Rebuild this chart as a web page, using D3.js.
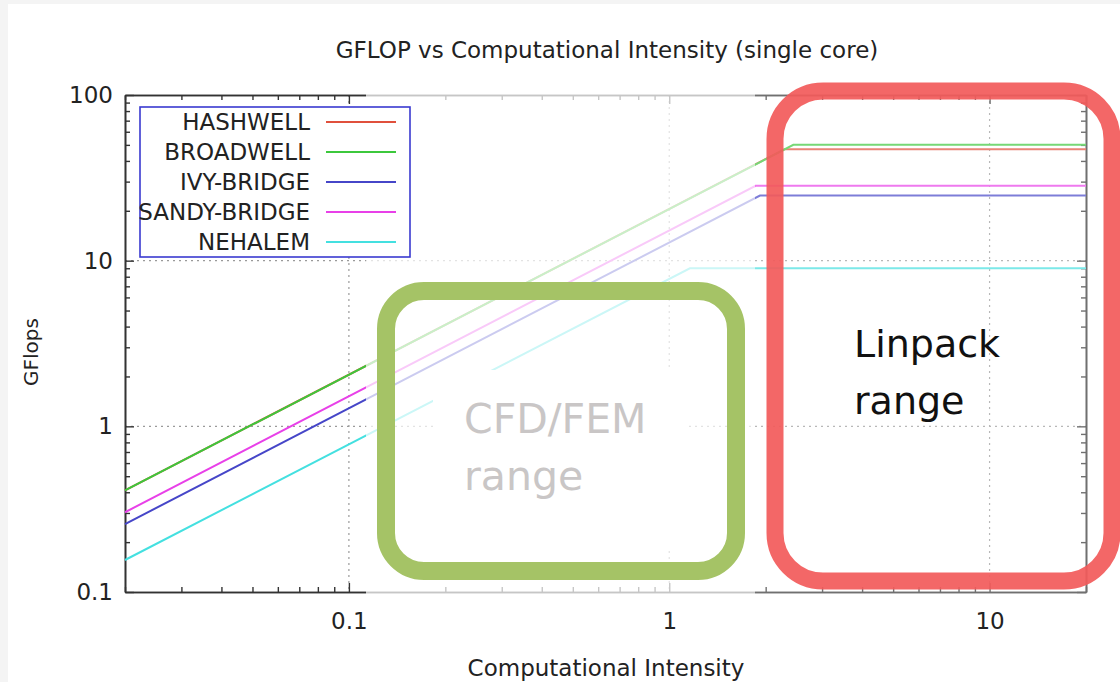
<!DOCTYPE html>
<html>
<head>
<meta charset="utf-8">
<script src="https://cdn.jsdelivr.net/npm/d3@7"></script>
<style>
  body { margin: 0; background: #f4f4f4; }
  svg { display: block; }
  text { font-family: "DejaVu Sans", sans-serif; fill: #222; }
</style>
</head>
<body>
<svg id="chart" width="1120" height="682"></svg>
<script>
// roofline data
const names = ["HASHWELL", "BROADWELL", "IVY-BRIDGE", "SANDY-BRIDGE", "NEHALEM"]
const colors = ["#e0503c", "#3cc83c", "#4646c8", "#e840e8", "#44e0e0"]
const startX = 0.02
const endX = 20
const startY = [0.41, 0.41, 0.257, 0.303, 0.156]   // GFlops at x = 0.02
const ridgeX = [2.29, 2.44, 1.92, 1.86, 1.16]      // where the roof flattens
const peak = [47, 50, 24.7, 28.3, 9.0]             // flat roof value

const xMajor = [0.1, 1, 10]
const yMajor = [0.1, 1, 10, 100]

const svg = d3.select("#chart")
svg.append("rect").attr("x", 8).attr("y", 4).attr("width", 1112).attr("height", 678).attr("fill", "#fff")

const L = 125, R = 1086, T = 95, B = 592
const x = d3.scaleLog().domain([startX, endX]).range([L, R])
const y = d3.scaleLog().domain([0.1, 100]).range([B, T])

const fmt = d => String(d)
const xMinor = x.ticks().filter(d => !xMajor.some(m => Math.abs(m - d) < 1e-9))
const yMinor = y.ticks().filter(d => !yMajor.some(m => Math.abs(m - d) < 1e-9))

// grid (dotted)
const grid = svg.append("g").attr("stroke", "#9a9a9a").attr("stroke-width", 1.2).attr("stroke-dasharray", "2,4")
grid.selectAll("line.vx").data(xMajor).enter().append("line")
  .attr("x1", d => x(d)).attr("x2", d => x(d)).attr("y1", T).attr("y2", B)
grid.selectAll("line.hy").data([1, 10]).enter().append("line")
  .attr("x1", L).attr("x2", R).attr("y1", d => y(d)).attr("y2", d => y(d))

// axes, gnuplot style: inward ticks on all four sides
function axes() {
  const g = svg.append("g").attr("class", "axes")
  const ax = (gen, tr) => g.append("g").attr("transform", tr).call(gen)
  ax(d3.axisBottom(x).tickValues(xMajor).tickFormat(fmt).tickSizeInner(-9).tickSizeOuter(0).tickPadding(21), `translate(0,${B})`)
  ax(d3.axisBottom(x).tickValues(xMinor).tickFormat("").tickSizeInner(-5).tickSizeOuter(0), `translate(0,${B})`)
  ax(d3.axisTop(x).tickValues(xMajor).tickFormat("").tickSizeInner(-9).tickSizeOuter(0), `translate(0,${T})`)
  ax(d3.axisTop(x).tickValues(xMinor).tickFormat("").tickSizeInner(-5).tickSizeOuter(0), `translate(0,${T})`)
  ax(d3.axisLeft(y).tickValues(yMajor).tickFormat(fmt).tickSizeInner(-9).tickSizeOuter(0).tickPadding(12), `translate(${L},0)`)
  ax(d3.axisLeft(y).tickValues(yMinor).tickFormat("").tickSizeInner(-5).tickSizeOuter(0), `translate(${L},0)`)
  ax(d3.axisRight(y).tickValues(yMajor).tickFormat("").tickSizeInner(-9).tickSizeOuter(0), `translate(${R},0)`)
  ax(d3.axisRight(y).tickValues(yMinor).tickFormat("").tickSizeInner(-5).tickSizeOuter(0), `translate(${R},0)`)
  g.selectAll(".domain").attr("stroke", "#333").attr("stroke-width", 1.6)
  g.selectAll(".tick line").attr("stroke", "#333").attr("stroke-width", 1.4)
  g.selectAll(".tick text").attr("font-size", 23).attr("fill", "#222").attr("font-family", "DejaVu Sans")
}
axes()

// roofline curves
const line = d3.line().x(d => x(d[0])).y(d => y(d[1]))
names.forEach((n, i) => {
  const pts = [[startX, startY[i]], [ridgeX[i], peak[i]], [endX, peak[i]]]
  svg.append("path").attr("d", line(pts)).attr("fill", "none")
    .attr("stroke", colors[i]).attr("stroke-width", 2)
})

// faded slide overlays
svg.append("rect").attr("x", 366).attr("y", 88).attr("width", 389).attr("height", 512)
  .attr("fill", "#fff").attr("opacity", 0.72)
svg.append("rect").attr("x", 755).attr("y", 88).attr("width", 340).attr("height", 512)
  .attr("fill", "#fff").attr("opacity", 0.3)
svg.append("rect").attr("x", 433).attr("y", 370).attr("width", 255).attr("height", 180).attr("fill", "#fff")

// legend
const leg = svg.append("g")
leg.append("rect").attr("x", 140).attr("y", 107).attr("width", 270).attr("height", 150)
  .attr("fill", "#fff").attr("stroke", "#3a3ad0").attr("stroke-width", 1.6)
names.forEach((n, i) => {
  const cy = 122 + i * 30
  leg.append("text").attr("x", 310).attr("y", cy).attr("dy", "0.36em")
    .attr("text-anchor", "end").attr("font-size", 23).text(n)
  leg.append("line").attr("x1", 326).attr("x2", 396).attr("y1", cy).attr("y2", cy)
    .attr("stroke", colors[i]).attr("stroke-width", 2)
})

// annotation boxes
svg.append("rect").attr("x", 386).attr("y", 291).attr("width", 350).attr("height", 280).attr("rx", 38)
  .attr("fill", "none").attr("stroke", "#a5c366").attr("stroke-width", 18)
svg.append("rect").attr("x", 775).attr("y", 91).attr("width", 337).attr("height", 490).attr("rx", 48)
  .attr("fill", "none").attr("stroke", "#f25a5a").attr("stroke-width", 17).attr("opacity", 0.92)

const ann = (txt, tx, ty, sz, col) => svg.append("text").attr("x", tx).attr("y", ty)
  .attr("font-family", "Open Sans").attr("font-size", sz).style("fill", col).text(txt)
ann("CFD/FEM", 464, 433, 41, "#c9c6c6")
ann("range", 464, 490, 41, "#c9c6c6")
ann("Linpack", 854, 357, 38, "#111")
ann("range", 854, 414, 38, "#111")

// titles
svg.append("text").attr("x", 607).attr("y", 58).attr("text-anchor", "middle").attr("font-size", 23)
  .text("GFLOP vs Computational Intensity (single core)")
svg.append("text").attr("x", 606).attr("y", 676).attr("text-anchor", "middle").attr("font-size", 23)
  .text("Computational Intensity")
svg.append("text").attr("transform", "translate(38,352) rotate(-90)").attr("text-anchor", "middle")
  .attr("font-size", 20).text("GFlops")
</script>
</body>
</html>
